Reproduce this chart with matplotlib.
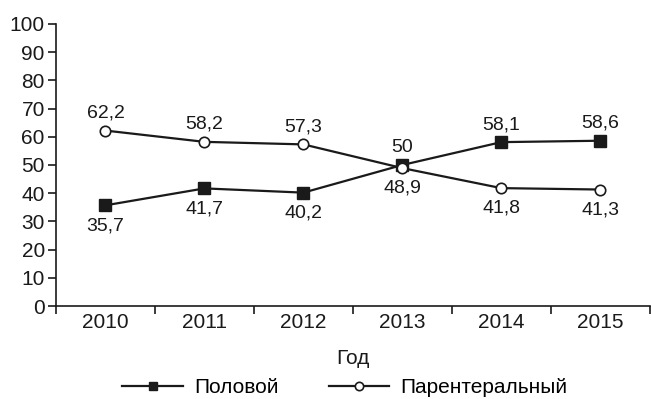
import matplotlib.pyplot as plt
from matplotlib.ticker import FixedLocator

plt.rcParams['font.family'] = ['Liberation Sans', 'DejaVu Sans']

years = ['2010', '2011', '2012', '2013', '2014', '2015']
sexual = [35.7, 41.7, 40.2, 50, 58.1, 58.6]
parenteral = [62.2, 58.2, 57.3, 48.9, 41.8, 41.3]

fig = plt.figure(figsize=(6.51, 3.99), dpi=100)
ax = fig.add_axes([0.086, 0.233, 0.912, 0.707])

x = list(range(len(years)))
ax.plot(x, sexual, color='#1a1a1a', lw=1.6, marker='s', ms=8,
        mfc='#1a1a1a', mec='#1a1a1a', label='Половой', zorder=3)
ax.plot(x, parenteral, color='#1a1a1a', lw=1.6, marker='o', ms=7.5,
        mfc='white', mec='#1a1a1a', mew=1.2, label='Парентеральный', zorder=3)

def fmt(v):
    return ('%g' % v).replace('.', ',')

UP, DOWN = 6.5, -8.5

# up to 2012 the parenteral line is on top, then they swap
for i in x:
    s_up = sexual[i] > parenteral[i]
    ax.annotate(fmt(sexual[i]), (i, sexual[i]), xytext=(0, UP if s_up else DOWN),
                textcoords='offset points', ha='center',
                va='bottom' if s_up else 'top', fontsize=14, color='#1a1a1a')
    ax.annotate(fmt(parenteral[i]), (i, parenteral[i]), xytext=(0, DOWN if s_up else UP),
                textcoords='offset points', ha='center',
                va='top' if s_up else 'bottom', fontsize=14, color='#1a1a1a')

ax.set_xlim(-0.5, len(years) - 0.5)
ax.set_ylim(0, 100)
ax.set_yticks(range(0, 101, 10))
ax.xaxis.set_major_locator(FixedLocator([i - 0.5 for i in range(len(years) + 1)]))
ax.xaxis.set_minor_locator(FixedLocator(x))
ax.set_xticklabels([])
ax.set_xticklabels(years, minor=True)
ax.tick_params(axis='both', which='both', labelsize=15, colors='#1a1a1a')
ax.tick_params(axis='x', which='minor', length=0, pad=5)
ax.tick_params(axis='x', which='major', length=6, width=1.2, direction='out')
ax.tick_params(axis='y', length=6, width=1.2, pad=2)

for side in ('top', 'right'):
    ax.spines[side].set_visible(False)
for side in ('left', 'bottom'):
    ax.spines[side].set_linewidth(1.2)
    ax.spines[side].set_color('#1a1a1a')

ax.set_xlabel('Год', fontsize=15, color='#1a1a1a', labelpad=12.5)

fig.legend(loc='lower center', bbox_to_anchor=(0.53, -0.042), ncol=2, frameon=False,
           fontsize=15, handlelength=2.9, columnspacing=2.4, handletextpad=0.55,
           markerscale=0.8)

fig.savefig('out.png', dpi=100)
